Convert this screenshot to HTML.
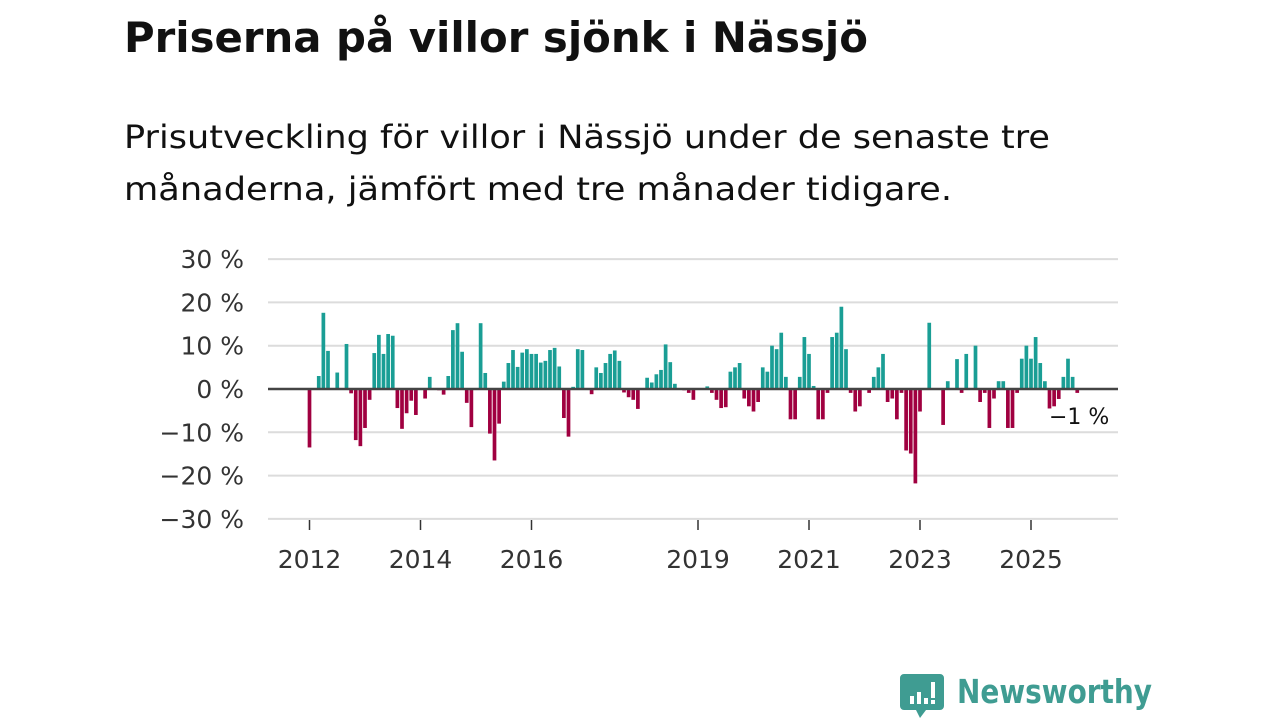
<!DOCTYPE html>
<html><head><meta charset="utf-8">
<style>
html,body{margin:0;padding:0;background:#fff;width:1280px;height:720px;overflow:hidden}
svg{display:block;font-family:"DejaVu Sans","Liberation Sans",sans-serif}
</style></head>
<body>
<svg id="chart" width="1280" height="720">
  <text x="124" y="52" font-size="42" font-weight="bold" fill="#111" textLength="744" lengthAdjust="spacingAndGlyphs">Priserna på villor sjönk i Nässjö</text>
  <text x="124" y="148" font-size="32" fill="#111" textLength="926" lengthAdjust="spacingAndGlyphs">Prisutveckling för villor i Nässjö under de senaste tre</text>
  <text x="124" y="200" font-size="32" fill="#111" textLength="828" lengthAdjust="spacingAndGlyphs">månaderna, jämfört med tre månader tidigare.</text>
  <g id="grid"></g>
  <g id="bars"></g>
  <g id="xaxis"></g>
  <text x="1049" y="424" font-size="22" fill="#111">−1 %</text>
  <g>
    <path d="M904 674 h36 a4 4 0 0 1 4 4 v28 a4 4 0 0 1 -4 4 h-14 l-6 8 l-4 -8 h-12 a4 4 0 0 1 -4 -4 v-28 a4 4 0 0 1 4 -4z" fill="#3f9c92"/>
    <rect x="910" y="696" width="4" height="8" fill="#fff"/>
    <rect x="917" y="692" width="4" height="12" fill="#fff"/>
    <rect x="924" y="698" width="4" height="6" fill="#fff"/>
    <rect x="931" y="682" width="4" height="16" fill="#fff"/>
    <rect x="931" y="700" width="4" height="4" fill="#fff"/>
    <text x="957" y="703" font-size="33" font-weight="bold" fill="#3f9c92" textLength="195" lengthAdjust="spacingAndGlyphs">Newsworthy</text>
  </g>
</svg>
<script>
const values = [-13.5,0,3,17.6,8.8,0,3.8,0,10.4,-1,-11.8,-13.2,-9,-2.5,8.3,12.5,8.1,12.7,12.3,-4.4,-9.2,-5.6,-2.7,-6,0,-2.2,2.8,0,-0.3,-1.3,3,13.6,15.2,8.6,-3.2,-8.8,0,15.2,3.7,-10.3,-16.5,-8,1.7,6,9,5.1,8.4,9.2,8.1,8.1,6.1,6.5,9,9.5,5.2,-6.7,-11,0.5,9.2,9,0,-1.2,5,3.7,6,8.1,8.9,6.5,-0.8,-1.9,-2.5,-4.6,0,2.6,1.5,3.4,4.4,10.3,6.2,1.2,0,-0.3,-0.9,-2.5,0,0,0.6,-0.9,-2.5,-4.4,-4.2,4,5,6,-2.2,-4,-5.2,-3,5,4,10,9.2,13,2.8,-7,-7,2.8,12,8.1,0.7,-7,-7,-0.9,12,13,19,9.2,-0.9,-5.2,-4,0,-0.9,2.8,5,8.1,-3,-2.2,-7,-0.9,-14.2,-14.9,-21.8,-5.2,0,15.3,0,0,-8.3,1.8,0,6.9,-0.9,8.1,0,10,-3,-0.9,-9,-2.2,1.8,1.8,-9,-9,-0.9,7,10,7,12,6,1.8,-4.5,-4,-2.3,2.8,7,2.8,-0.9];
const yTicks = [30,20,10,0,-10,-20,-30];
const yTickLabels = ["30 %","20 %","10 %","0 %","−10 %","−20 %","−30 %"];
const xTickYears = [2012,2014,2016,2019,2021,2023,2025];
const startYear = 2012;

const ns="http://www.w3.org/2000/svg";
const y0=389, pxPer=4.33;
function yScale(v){return y0 - v*pxPer;}
function xScale(m){return 309.5 + m*4.625;}
const grid=document.getElementById('grid');
yTicks.forEach((t,i)=>{
  const l=document.createElementNS(ns,'line');
  l.setAttribute('x1',268);l.setAttribute('x2',1118);
  l.setAttribute('y1',yScale(t));l.setAttribute('y2',yScale(t));
  l.setAttribute('stroke','#dcdcdc');l.setAttribute('stroke-width',2);
  
  
  if(t!==0)grid.appendChild(l);
  const tx=document.createElementNS(ns,'text');
  tx.setAttribute('x',244);tx.setAttribute('y',yScale(t)+9);
  tx.setAttribute('text-anchor','end');tx.setAttribute('font-size','25');tx.setAttribute('fill','#333');
  tx.textContent=yTickLabels[i];
  
  
  grid.appendChild(tx);
});
const bars=document.getElementById('bars');
values.forEach((v,m)=>{
  if(v===0)return;
  const r=document.createElementNS(ns,'rect');
  const y=yScale(v);
  r.setAttribute('x',xScale(m)-1.85);r.setAttribute('width',3.7);
  r.setAttribute('y',Math.min(y,y0));r.setAttribute('height',Math.abs(y-y0));
  r.setAttribute('fill',v>0?'#1a9e95':'#a00040');
  
  
  bars.appendChild(r);
});
const zl=document.createElementNS(ns,'line');
zl.setAttribute('x1',268);zl.setAttribute('x2',1118);zl.setAttribute('y1',y0);zl.setAttribute('y2',y0);
zl.setAttribute('stroke','#444');zl.setAttribute('stroke-width',2.5);


bars.appendChild(zl);
const xg=document.getElementById('xaxis');
xTickYears.forEach(yr=>{
  const x=xScale((yr-startYear)*12);
  const t=document.createElementNS(ns,'line');
  t.setAttribute('x1',x);t.setAttribute('x2',x);t.setAttribute('y1',520);t.setAttribute('y2',530);
  t.setAttribute('stroke','#333');t.setAttribute('stroke-width',1.5);
  
  
  xg.appendChild(t);
  const tx=document.createElementNS(ns,'text');
  tx.setAttribute('x',x);tx.setAttribute('y',568);tx.setAttribute('text-anchor','middle');
  tx.setAttribute('font-size','25');tx.setAttribute('fill','#333');
  tx.textContent=yr;
  
  
  xg.appendChild(tx);
});
</script>
</body></html>
